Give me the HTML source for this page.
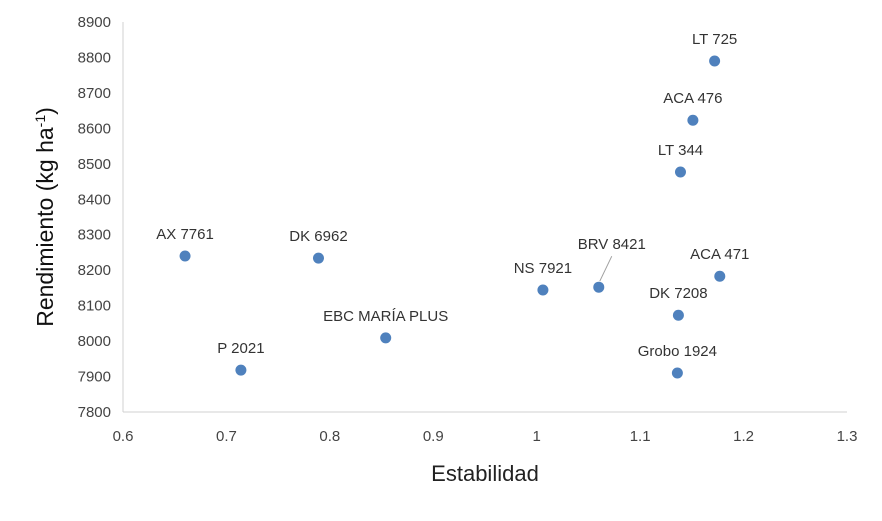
<!DOCTYPE html>
<html><head><meta charset="utf-8"><style>
body{margin:0;background:#fff}
svg{font-family:"Liberation Sans",sans-serif}
</style></head><body>
<svg width="882" height="516">
<g id="axes"></g><g id="marks"></g>
<text x="485" y="481" font-size="22" text-anchor="middle" fill="#222">Estabilidad</text>
<text transform="translate(53,217) rotate(-90)" font-size="23" text-anchor="middle" fill="#111">Rendimiento (kg ha<tspan dy="-8" font-size="14">-1</tspan><tspan dy="8">)</tspan></text>
</svg>
<script>
const names=["AX 7761","DK 6962","EBC MARÍA PLUS","P 2021","NS 7921","BRV 8421","ACA 471","DK 7208","Grobo 1924","LT 344","ACA 476","LT 725"];
const stab=[0.660,0.789,0.854,0.714,1.006,1.060,1.177,1.137,1.136,1.139,1.151,1.172];
const yieldV=[8240,8234,8009,7918,8144,8152,8183,8073,7910,8477,8623,8790];
const xTicks=["0.6","0.7","0.8","0.9","1","1.1","1.2","1.3"];
const yTicks=["7800","7900","8000","8100","8200","8300","8400","8500","8600","8700","8800","8900"];
const X=v=>123+(v-0.6)/0.7*724;
const Y=v=>412-(v-7800)/1100*390;
const NS="http://www.w3.org/2000/svg";
function mk(t,a,p){const e=document.createElementNS(NS,t);for(const k in a)e.setAttribute(k,a[k]);p.appendChild(e);return e;}
const ax=document.getElementById('axes'),mg=document.getElementById('marks');
let l=mk('line',{x1:123,y1:22,x2:123,y2:412,stroke:'#d0d0d0'},ax);


l=mk('line',{x1:123,y1:412,x2:847,y2:412,stroke:'#d0d0d0'},ax);


xTicks.forEach(t=>{const e=mk('text',{x:X(+t),y:441,'font-size':15,'text-anchor':'middle',fill:'#444'},ax);e.textContent=t;

});
yTicks.forEach(t=>{const e=mk('text',{x:111,y:Y(+t)+5,'font-size':15,'text-anchor':'end',fill:'#444'},ax);e.textContent=t;

});
names.forEach((n,i)=>{const cx=X(stab[i]),cy=Y(yieldV[i]);
const c=mk('circle',{cx:cx,cy:cy,r:5.5,fill:'#4f81bd'},mg);


let lx=cx,ly=cy-17;
if(n==="BRV 8421"){lx=cx+13;ly=cy-38;
const ld=mk('line',{x1:cx+1,y1:cy-6,x2:cx+13,y2:cy-31,stroke:'#a0a0a0'},mg);

}
const t=mk('text',{x:lx,y:ly,'font-size':15,'text-anchor':'middle',fill:'#333'},mg);t.textContent=n;

});
</script>
</body></html>
